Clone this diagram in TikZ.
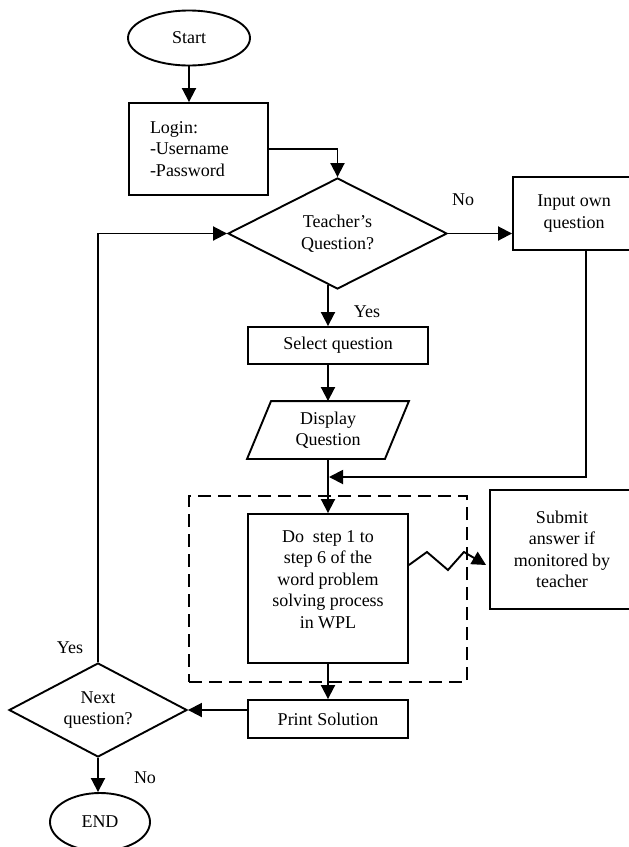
\documentclass[tikz,border=0pt]{standalone}
\usepackage{fontspec}
\setmainfont{Liberation Serif}
\usetikzlibrary{arrows.meta,shapes.geometric,calc}

\begin{document}
\begin{tikzpicture}[x=1pt,y=-1pt,
  line width=1.9pt,
  every node/.style={font=\fontsize{18}{21.5}\selectfont},
  proc/.style={draw, rectangle, inner sep=0pt, align=center},
  term/.style={draw, ellipse, inner sep=0pt},
  decide/.style={draw, diamond, inner sep=0pt, aspect=2, align=center},
  txt/.style={inner sep=0pt, align=center},
  flow/.style={-{Triangle[length=14pt,width=14pt]}},
  group/.style={draw, rectangle, dash pattern=on 13pt off 7pt, inner sep=0pt}
]
\clip (0,0) rectangle (629,847);
\useasboundingbox (0,0) rectangle (629,847);

% terminals
\node[term, minimum width=122, minimum height=55] (start) at (189,38) {Start};
\node[term, minimum width=100, minimum height=58] (end) at (100,822) {END};

% login
\node[proc, align=left, text width=97, inner xsep=21pt, minimum height=92]
  (login) at (198.5,149) {Login:\\-Username\\-Password};

% decisions
\node[decide, minimum width=219, minimum height=111] (teacher) at (337.5,233.5)
  {Teacher’s\\Question?};
\node[decide, minimum width=178, minimum height=94] (next) at (98,710)
  {Next\\question?};

% processes
\node[proc, minimum width=122, minimum height=73] (input) at (574,213.5)
  {Input own\\question};
\node[proc, minimum width=180, minimum height=37] (select) at (338,345.5)
  {Select question};

% display (parallelogram drawn around a plain node)
\node[txt, minimum width=160, minimum height=56] (disp) at (328,430)
  {Display\\Question};
\draw (disp.south west) -- ([xshift=24pt]disp.north west)
  -- (disp.north east) -- ([xshift=-24pt]disp.south east) -- cycle;

% dashed group and its steps
\node[group, minimum width=278, minimum height=186] (grp) at (328,589) {};
\node[proc, minimum width=160, minimum height=149] (dostep) at (328,588.5) {};
\node[txt] (dosteptxt) at ([yshift=9pt]dostep.center)
  {Do~~step 1 to\\step 6 of the\\word problem\\solving process\\in WPL};

\node[proc, minimum width=144, minimum height=119] (submit) at (562,549.5)
  {Submit\\answer if\\monitored by\\teacher};
\node[proc, minimum width=160, minimum height=38] (print) at (328,719)
  {Print Solution};

\coordinate (merge) at (329,477);

% connectors
\draw[flow] (start.south) -- (start.south |- login.north);
\draw[flow] (login.east) -| (teacher.north);
\draw[flow] (teacher.east) -- (teacher.east -| input.west);
\draw[flow] (teacher.south -| disp.center) ++(0,-5) -- (select.north -| disp.center);
\draw[flow] (select.south -| disp.center) -- (disp.north);
\draw[flow] (disp.south) -- (dostep.north);
\draw[flow] ([xshift=12pt]input.south) |- (merge);
\draw[flow] ([yshift=23.5pt]dostep.east) -- ++(18,-13) -- ++(21,18) -- ++(16,-18)
  -- ([yshift=-15.5pt,xshift=-3pt]submit.west);
\draw[flow] (dostep.south) -- (print.north);
\draw[flow] (print.west |- next.east) -- (next.east);
\draw[flow] (next.north) |- (teacher.west);
\draw[flow] (next.south) -- (next.south |- end.north);

% branch labels
\node[txt] (noA) at (463,200) {No};
\node[txt] (yesA) at (367,312) {Yes};
\node[txt] (yesB) at (70,648) {Yes};
\node[txt] (noB) at (145,778) {No};
\end{tikzpicture}
\end{document}
